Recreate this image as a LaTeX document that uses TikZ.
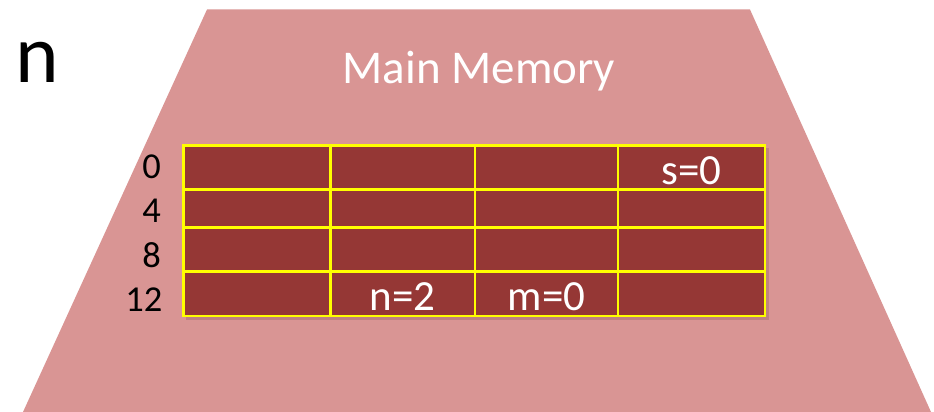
\documentclass[tikz,border=0pt]{standalone}
\usepackage{fontspec}
\setmainfont{Carlito}
\definecolor{memfill}{HTML}{D99594}
\definecolor{cellfill}{HTML}{953735}
\definecolor{gridyellow}{HTML}{FFFF00}
\tikzset{
  celltext/.style={text=white, font=\fontsize{43}{43}\selectfont, anchor=base, inner sep=0pt},
  addrtext/.style={text=black, font=\fontsize{36.5}{36.5}\selectfont, anchor=base east, inner sep=0pt},
  memcell/.style={draw=gridyellow, line width=2.5pt, fill=cellfill}
}
\begin{document}
\begin{tikzpicture}[x=1pt,y=-1pt]
\useasboundingbox (0,0) rectangle (934,412);
% memory trapezoid
\fill[memfill] (207,9.5) -- (750,9.5) -- (931,412) -- (23,412) -- cycle;
% shadow of table
\fill[black, opacity=0.12] (186,148) rectangle (769,320);
% table grid
\def\xs{{183.5,330.5,475,618,765}}
\def\ys{{145.7,189.3,227.3,271.7,316}}
\foreach \i in {0,1,2,3}{
  \foreach \j in {0,1,2,3}{
    \pgfmathsetmacro{\xa}{\xs[\i]}
    \pgfmathsetmacro{\xb}{\xs[\i+1]}
    \pgfmathsetmacro{\ya}{\ys[\j]}
    \pgfmathsetmacro{\yb}{\ys[\j+1]}
    \draw[memcell] (\xa,\ya) rectangle (\xb,\yb);
  }
}
% titles
\node[text=white, font=\fontsize{47}{47}\selectfont, anchor=base, inner sep=0pt] (title) at (479,84) {Main Memory};
\node[text=black, font=\fontsize{83}{83}\selectfont, anchor=base, inner sep=0pt] (nlabel) at (37,82) {n};
% addresses
\node[addrtext] (a0) at (161,178) {0};
\node[addrtext] (a4) at (161,222.7) {4};
\node[addrtext] (a8) at (161,267) {8};
\node[addrtext] (a12) at (162.5,311.7) {12};
% cell contents
\node[celltext] (s) at (691.5,184) {s=0};
\node[celltext] (n) at (402.7,310.7) {n=2};
\node[celltext] (m) at (546.5,310.7) {m=0};
\end{tikzpicture}
\end{document}
